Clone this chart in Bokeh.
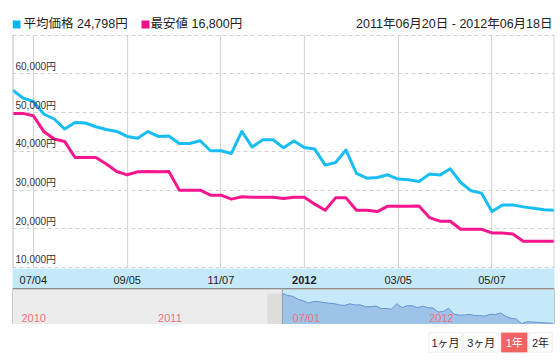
import pandas as pd
from bokeh.plotting import figure
from bokeh.models import (Range1d, FixedTicker, Span, Label, BoxAnnotation,
                          ColumnDataSource, Grid)
from bokeh.layouts import column
from bokeh.embed import file_html
from bokeh.resources import INLINE
from bokeh.core.properties import value

# ---------------- data ----------------
first_week = "2011-06-20"
avg_price = [55860, 53790, 52910, 49650, 48350, 45770, 47470, 47320, 46360, 45660,
             45140, 43850, 43400, 45100, 43850, 43950, 42040, 42040, 42740, 40150,
             40150, 39450, 45140, 41100, 43000, 43000, 40900, 42660, 41000, 40590,
             36450, 37120, 40330, 34280, 33080, 33240, 33940, 32830, 32640, 32200,
             34120, 33860, 35490, 31950, 29800, 29200, 24440, 26170, 26170, 25660,
             25320, 24900, 24798]
min_price = [49800, 49800, 49200, 45140, 43180, 42560, 38420, 38420, 38420, 36710,
             34790, 33940, 34710, 34790, 34710, 34790, 29980, 29980, 29980, 28690,
             28690, 27650, 28250, 28150, 28150, 28150, 27810, 28170, 28170, 26360,
             24800, 27990, 27990, 24800, 24800, 24440, 25840, 25840, 25840, 25860,
             22890, 21960, 21960, 19890, 19860, 19860, 18930, 18930, 18670, 16800,
             16800, 16800, 16800]
y_ticks = [10000, 20000, 30000, 40000, 50000, 60000, 70000]
y_tick_labels = ["10,000円", "20,000円", "30,000円", "40,000円", "50,000円", "60,000円"]
x_tick_dates = ["2011-07-04", "2011-09-05", "2011-11-07", "2012-01-02", "2012-03-05", "2012-05-07"]
x_tick_labels = ["07/04", "09/05", "11/07", "2012", "03/05", "05/07"]
x_tick_styles = ["normal", "normal", "normal", "bold", "normal", "normal"]
nav_start, nav_end = "2010-06-21 14:00", "2012-06-20 12:00"
nav_tick_dates = ["2010-07-01", "2011-01-01", "2011-07-01", "2012-01-01"]
nav_tick_labels = ["2010", "2011", "07/01", "2012"]
legend_avg = "平均価格 24,798円"
legend_min = "最安値 16,800円"
range_text = "2011年06月20日 - 2012年06月18日"
button_labels = ["1ヶ月", "3ヶ月", "1年", "2年"]
selected_button = "1年"

BLUE = "#18BDF3"
PINK = "#F7168E"
FONT = "Liberation Sans, Noto Sans CJK JP"
BAND = "#C6E9F9"
W = 560
BL, BR = 12, 6   # shared frame borders (column aligns frames)

dates = pd.date_range(first_week, periods=len(avg_price), freq="7D")


def ms(d):
    return pd.Timestamp(d).value // 10**6


src = ColumnDataSource(dict(date=dates, avg=avg_price, low=min_price))


def bare(height, **kw):
    f = figure(width=W, height=height, output_backend="svg", toolbar_location=None,
               x_axis_location=None, y_axis_location=None, title=None,
               outline_line_color=None, min_border_left=BL, min_border_right=BR,
               min_border_top=0, min_border_bottom=0, **kw)
    for g in f.grid:
        g.visible = False
    return f


def sbox(l, r, t, b, **kw):
    return BoxAnnotation(left=l, right=r, top=t, bottom=b,
                         left_units="screen", right_units="screen",
                         top_units="screen", bottom_units="screen", **kw)


# ---------------- header (screen units: frame-relative, bottom-left origin) ----------------
head = bare(34, x_range=Range1d(0, 1), y_range=Range1d(0, 1))
for left, col in [(0, "#0AB4F0"), (129, "#EE1088")]:
    head.add_layout(sbox(left, left + 8, 14, 6, fill_color=col, fill_alpha=1, line_color=None))
head.add_layout(Label(x=11, y=10.5, x_units="screen", y_units="screen", text=legend_avg,
                      text_font=FONT, text_font_size="12.5px", text_color="#222222",
                      text_baseline="middle"))
head.add_layout(Label(x=138, y=10.5, x_units="screen", y_units="screen", text=legend_min,
                      text_font=FONT, text_font_size="12.5px", text_color="#222222",
                      text_baseline="middle"))
head.add_layout(Label(x=540, y=10.5, x_units="screen", y_units="screen", text=range_text,
                      text_font=FONT, text_font_size="12.5px", text_color="#222222",
                      text_baseline="middle", text_align="right"))

# ---------------- main chart ----------------
p = bare(234, x_axis_type="datetime",
         x_range=Range1d(ms(dates[0]), ms(dates[-1])), y_range=Range1d(9740, 70180))
p.add_layout(Grid(dimension=0, ticker=FixedTicker(ticks=[ms(d) for d in x_tick_dates]),
                  grid_line_color="#D6D6D6", grid_line_width=1.2))
p.add_layout(Grid(dimension=1, ticker=FixedTicker(ticks=y_ticks),
                  grid_line_color="#D2D2D2", grid_line_width=1, grid_line_dash="4 3"))
p.add_layout(Span(location=ms(dates[0]), dimension="height", line_color="#BDBDBD", line_width=2))
p.add_layout(Span(location=ms(dates[-1]), dimension="height", line_color="#D0D0D0", line_width=2))
p.line("date", "avg", source=src, line_color=BLUE, line_width=3, line_join="round")
p.line("date", "low", source=src, line_color=PINK, line_width=3, line_join="round")
p.text(x=[dates[0]] * len(y_tick_labels), y=y_ticks[:-1], text=y_tick_labels,
       x_offset=3, y_offset=-2, text_baseline="bottom", text_align="left",
       text_font=value(FONT), text_font_size="10px", text_color="#333333")

# ---------------- date band ----------------
band = bare(21, x_axis_type="datetime",
            x_range=Range1d(ms(dates[0]), ms(dates[-1])), y_range=Range1d(0, 21),
            background_fill_color=BAND)
band.text(x=pd.to_datetime(x_tick_dates), y=[10] * len(x_tick_labels), text=x_tick_labels,
          text_font_style=x_tick_styles, text_align="center", text_baseline="middle",
          text_font=value(FONT), text_font_size="11px", text_color="#222222")
band.add_layout(Span(location=0.7, dimension="width", line_color="#8E8E8E", line_width=1.5))

# ---------------- navigator ----------------
nav_lo, nav_hi = 23400, 60000
nav = bare(35, x_axis_type="datetime",
           x_range=Range1d(ms(nav_start), ms(nav_end)), y_range=Range1d(nav_lo, nav_hi),
           background_fill_color=BAND)
nav.outline_line_color = "#C4C4C4"
nav.add_layout(BoxAnnotation(right=ms(dates[0]), fill_color="#ECECEC", fill_alpha=1,
                             line_color=None, level="underlay"))
nav.add_layout(BoxAnnotation(left=ms(dates[0] - pd.Timedelta(days=20)), right=ms(dates[0]),
                             top=nav_hi - (nav_hi - nav_lo) * 4 / 35,
                             fill_color="#DDDDDD", fill_alpha=1, line_color=None,
                             level="underlay"))
nav.varea(x="date", y1=0, y2="avg", source=src, fill_color="#9DC3E8")
nav.line("date", "avg", source=src, line_color="#6693D3", line_width=1)
nav.add_layout(Span(location=ms(dates[0]), dimension="height", line_color="#9A9A9A", line_width=1))
nav.text(x=pd.to_datetime(nav_tick_dates), y=[nav_lo] * len(nav_tick_labels), text=nav_tick_labels,
         x_offset=2, y_offset=-7, text_baseline="middle", text_align="left",
         text_font=value(FONT), text_font_size="11px", text_color="#F0707C")

# ---------------- buttons ----------------
btn = bare(38, x_range=Range1d(0, 1), y_range=Range1d(0, 1))
edges = [(416.3, 449.7), (451.3, 486.3), (488.7, 514.7), (516.3, 539.7)]
for (l, r), lab in zip(edges, button_labels):
    sel = lab == selected_button
    btn.add_layout(sbox(l, r, 29.7, 10.3,
                        fill_color="#F26461" if sel else "white", fill_alpha=1,
                        line_color="#F26461" if sel else "#C6C6C6", line_width=1))
    btn.add_layout(Label(x=(l + r) / 2, y=20, x_units="screen", y_units="screen", text=lab,
                         text_font=FONT, text_font_size="11px",
                         text_color="white" if sel else "#222222",
                         text_align="center", text_baseline="middle"))

layout = column(head, p, band, nav, btn, spacing=0)
open("out.html", "w").write(file_html(layout, INLINE))
